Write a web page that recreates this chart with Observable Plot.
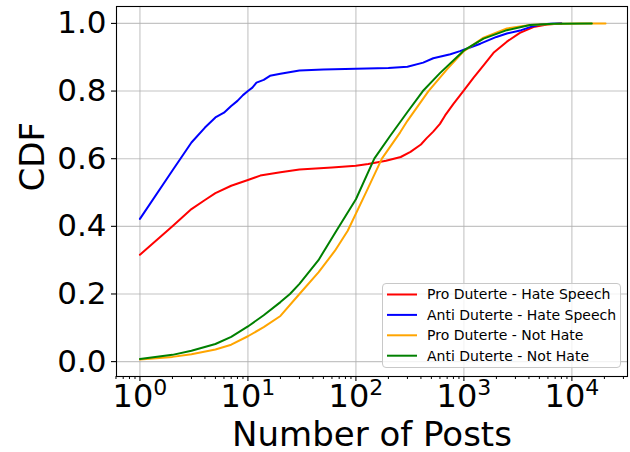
<!DOCTYPE html>
<html><head><meta charset="utf-8">
<script src="https://cdn.jsdelivr.net/npm/d3@7"></script>
<script src="https://cdn.jsdelivr.net/npm/@observablehq/plot@0.6"></script>
<style>body{margin:0;background:#fff}</style>
</head><body><div id="chart"></div>
<script>
const seriesNames = ["Pro Duterte - Hate Speech", "Anti Duterte - Hate Speech", "Pro Duterte - Not Hate", "Anti Duterte - Not Hate"];
const seriesColors = ["red", "blue", "orange", "green"];

const proHatePosts = [1, 2, 3, 4, 5, 7, 10, 13, 20, 30, 60, 100, 130, 190, 260, 320, 400, 450, 520, 600, 670, 800, 1000, 1230, 1520, 1880, 2500, 3300, 4400, 5900, 8000];
const proHateCdf   = [0.316, 0.40, 0.451, 0.478, 0.498, 0.520, 0.537, 0.550, 0.560, 0.568, 0.574, 0.579, 0.584, 0.594, 0.605, 0.620, 0.642, 0.660, 0.680, 0.703, 0.728, 0.762, 0.802, 0.840, 0.876, 0.913, 0.946, 0.972, 0.989, 0.997, 1.0];

const antiHatePosts = [1, 2, 3, 4, 5, 6, 7, 8, 9, 10, 11, 12, 14, 16, 20, 30, 50, 100, 200, 300, 420, 520, 750, 920, 1000, 1420, 2000, 2500, 3400, 4100, 5100, 6300, 8000];
const antiHateCdf   = [0.422, 0.565, 0.648, 0.692, 0.722, 0.736, 0.756, 0.771, 0.788, 0.800, 0.810, 0.825, 0.833, 0.845, 0.851, 0.861, 0.864, 0.866, 0.868, 0.872, 0.884, 0.897, 0.909, 0.918, 0.922, 0.940, 0.960, 0.970, 0.980, 0.989, 0.997, 0.999, 1.0];

const proNotPosts = [1, 2, 3, 5, 7, 10, 14, 20, 30, 45, 64, 84, 126, 174, 257, 300, 470, 700, 1000, 1520, 2500, 4100, 6800, 12000, 20500];
const proNotCdf   = [0.006, 0.014, 0.022, 0.036, 0.050, 0.075, 0.102, 0.135, 0.200, 0.264, 0.328, 0.387, 0.505, 0.600, 0.678, 0.712, 0.800, 0.865, 0.918, 0.958, 0.985, 0.995, 0.998, 0.9995, 1.0];

const antiNotPosts = [1, 2, 3, 5, 7, 10, 14, 20, 24.5, 30, 45, 66, 100, 148, 208, 300, 417, 600, 1000, 1520, 2500, 4100, 6800, 15300];
const antiNotCdf   = [0.008, 0.020, 0.032, 0.052, 0.073, 0.104, 0.137, 0.176, 0.200, 0.230, 0.300, 0.387, 0.480, 0.600, 0.668, 0.738, 0.800, 0.853, 0.920, 0.955, 0.980, 0.995, 0.999, 1.0];

const majorTicks = [1, 10, 100, 1000, 10000];
const minorMantissas = [2, 3, 4, 5, 6, 7, 8, 9];
const yTicks = [0, 0.2, 0.4, 0.6, 0.8, 1.0];

const seriesX = [proHatePosts, antiHatePosts, proNotPosts, antiNotPosts];
const seriesY = [proHateCdf, antiHateCdf, proNotCdf, antiNotCdf];
const data = seriesNames.flatMap((name, i) => seriesX[i].map((x, j) => ({series: name, posts: x, cdf: seriesY[i][j]})));

const minorTicks = [];
for (const dec of [0.1, 1, 10, 100, 1000, 10000]) for (const m of minorMantissas) minorTicks.push(m * dec);

const gridStyle = {stroke: "#b0b0b0", strokeOpacity: 0.75, strokeWidth: 1.1};

const chart = Plot.plot({
  width: 630, height: 452,
  marginLeft: 116, marginRight: 3, marginTop: 6, marginBottom: 76,
  style: {fontFamily: "DejaVu Sans", background: "white", color: "black", overflow: "visible"},
  x: {type: "log", domain: [Math.pow(10, -0.217), Math.pow(10, 4.515)], label: null},
  y: {domain: [-0.044, 1.05], label: null},
  color: {domain: seriesNames, range: seriesColors},
  marks: [
    Plot.gridX(majorTicks, gridStyle),
    Plot.gridY(yTicks, gridStyle),
    Plot.line(data, {x: "posts", y: "cdf", z: "series", stroke: "series", strokeWidth: 2}),
    Plot.frame({stroke: "black", strokeWidth: 1.1}),
    Plot.axisX(minorTicks.filter(t => t > 0.6 && t < 33000), {tickSize: 3, tickFormat: () => "", label: null, strokeWidth: 1}),
    Plot.axisX(majorTicks, {tickSize: 5, tickPadding: 3, fontSize: 32, label: null, strokeWidth: 1.1,
      tickFormat: d => "10^" + Math.round(Math.log10(d))}),
    Plot.axisY(yTicks, {tickSize: 5, tickPadding: 5, fontSize: 31, label: null, strokeWidth: 1.1,
      tickFormat: d3.format(".1f")}),
    Plot.text(["CDF"], {frameAnchor: "left", rotate: -90, dx: -83, fontSize: 34}),
    Plot.text(["Number of Posts"], {frameAnchor: "bottom", dy: 69, fontSize: 34})
  ]
});

// superscript exponents for the log tick labels
d3.select(chart).selectAll('g[aria-label="x-axis tick label"] text').each(function() {
  const el = d3.select(this);
  const parts = el.text().split("^");
  if (parts.length !== 2) return;
  el.text(parts[0]);
  el.append("tspan").attr("dy", "-12").attr("font-size", 22).text(parts[1]);
});

// legend (matplotlib style, lower right inside the axes)
const svg = d3.select(chart);
const lg = svg.append("g").attr("font-family", "DejaVu Sans").attr("font-size", 14).attr("text-anchor", "start");
lg.append("rect").attr("x", 382.5).attr("y", 283.5).attr("width", 238).attr("height", 84)
  .attr("rx", 3.5).attr("fill", "white").attr("fill-opacity", 0.8).attr("stroke", "#c8c8c8").attr("stroke-width", 1);
seriesNames.forEach((name, i) => {
  const cy = 294.5 + i * 20.4;
  lg.append("line").attr("x1", 387).attr("x2", 417).attr("y1", cy).attr("y2", cy)
    .attr("stroke", seriesColors[i]).attr("stroke-width", 2);
  lg.append("text").attr("x", 427).attr("y", cy).attr("dy", "0.35em").attr("fill", "black")
    .attr("text-anchor", "start").text(name);
});

document.getElementById("chart").appendChild(chart);
</script>
</body></html>
